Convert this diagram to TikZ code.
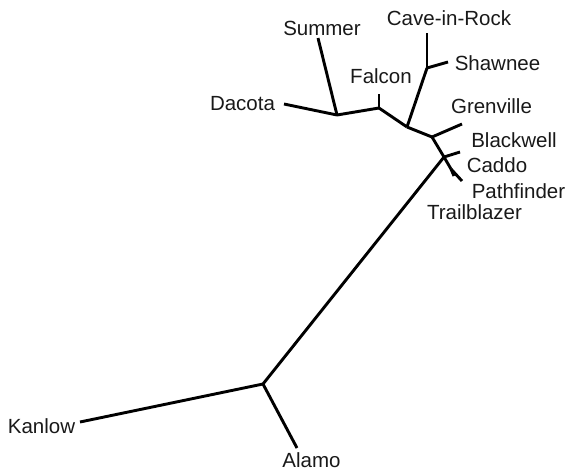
\documentclass[tikz,border=0pt]{standalone}
\usepackage{fontspec}
\setmainfont{Liberation Sans}
\begin{document}
\begin{tikzpicture}[x=1pt,y=-1pt,
  br/.style={line width=2.9pt,line join=round},
  lbl/.style={font=\fontsize{20.5}{24}\selectfont,inner sep=0pt,anchor=base,text=black!90}]
\useasboundingbox (0,0) rectangle (568,472);
% tree nodes
\coordinate (n1) at (337,115);
\coordinate (nF) at (379,108);
\coordinate (nA) at (407,127);
\coordinate (nCS) at (427,68);
\coordinate (nB) at (432,137);
\coordinate (nC) at (444,157);
\coordinate (nD) at (451,169);
\coordinate (root) at (263,384);
% leaves
\coordinate (lDacota) at (284,104);
\coordinate (lSummer) at (318,38);
\coordinate (lFalcon) at (379,94);
\coordinate (lCave) at (427,33);
\coordinate (lShawnee) at (448,62);
\coordinate (lGrenville) at (462,124);
\coordinate (lBlackwell) at (460,152);
\coordinate (lCaddo) at (454,176);
\coordinate (lPath) at (462,181);
\coordinate (lKanlow) at (80,422);
\coordinate (lAlamo) at (297,448);
% branches
\draw[br] (lDacota) -- (n1);
\draw[br] (lSummer) -- (n1);
\draw[br] (n1) -- (nF);
\draw[br] (nF) -- (lFalcon);
\draw[br] (nF) -- (nA);
\draw[br] (nA) -- (nCS);
\draw[br] (nCS) -- (lCave);
\draw[br] (nCS) -- (lShawnee);
\draw[br] (nA) -- (nB);
\draw[br] (nB) -- (lGrenville);
\draw[br] (nB) -- (nC);
\draw[br] (nC) -- (lBlackwell);
\draw[br] (nC) -- (nD);
\draw[br] (nD) -- (lCaddo);
\draw[br] (nD) -- (lPath);
\draw[br] (nC) -- (root);
\draw[br] (root) -- (lKanlow);
\draw[br] (root) -- (lAlamo);
% labels
\node[lbl] (tCave) at (449,25) {Cave-in-Rock};
\node[lbl] (tSummer) at (322,35) {Summer};
\node[lbl] (tShawnee) at (497.5,70) {Shawnee};
\node[lbl] (tFalcon) at (381,83) {Falcon};
\node[lbl] (tDacota) at (242.5,110) {Dacota};
\node[lbl] (tGrenville) at (491.5,113) {Grenville};
\node[lbl] (tBlackwell) at (514,147) {Blackwell};
\node[lbl] (tCaddo) at (497,172) {Caddo};
\node[lbl] (tPath) at (518.5,198) {Pathfinder};
\node[lbl] (tTrail) at (474.5,219) {Trailblazer};
\node[lbl] (tKanlow) at (41.5,433) {Kanlow};
\node[lbl] (tAlamo) at (311.5,467) {Alamo};
\end{tikzpicture}
\end{document}
